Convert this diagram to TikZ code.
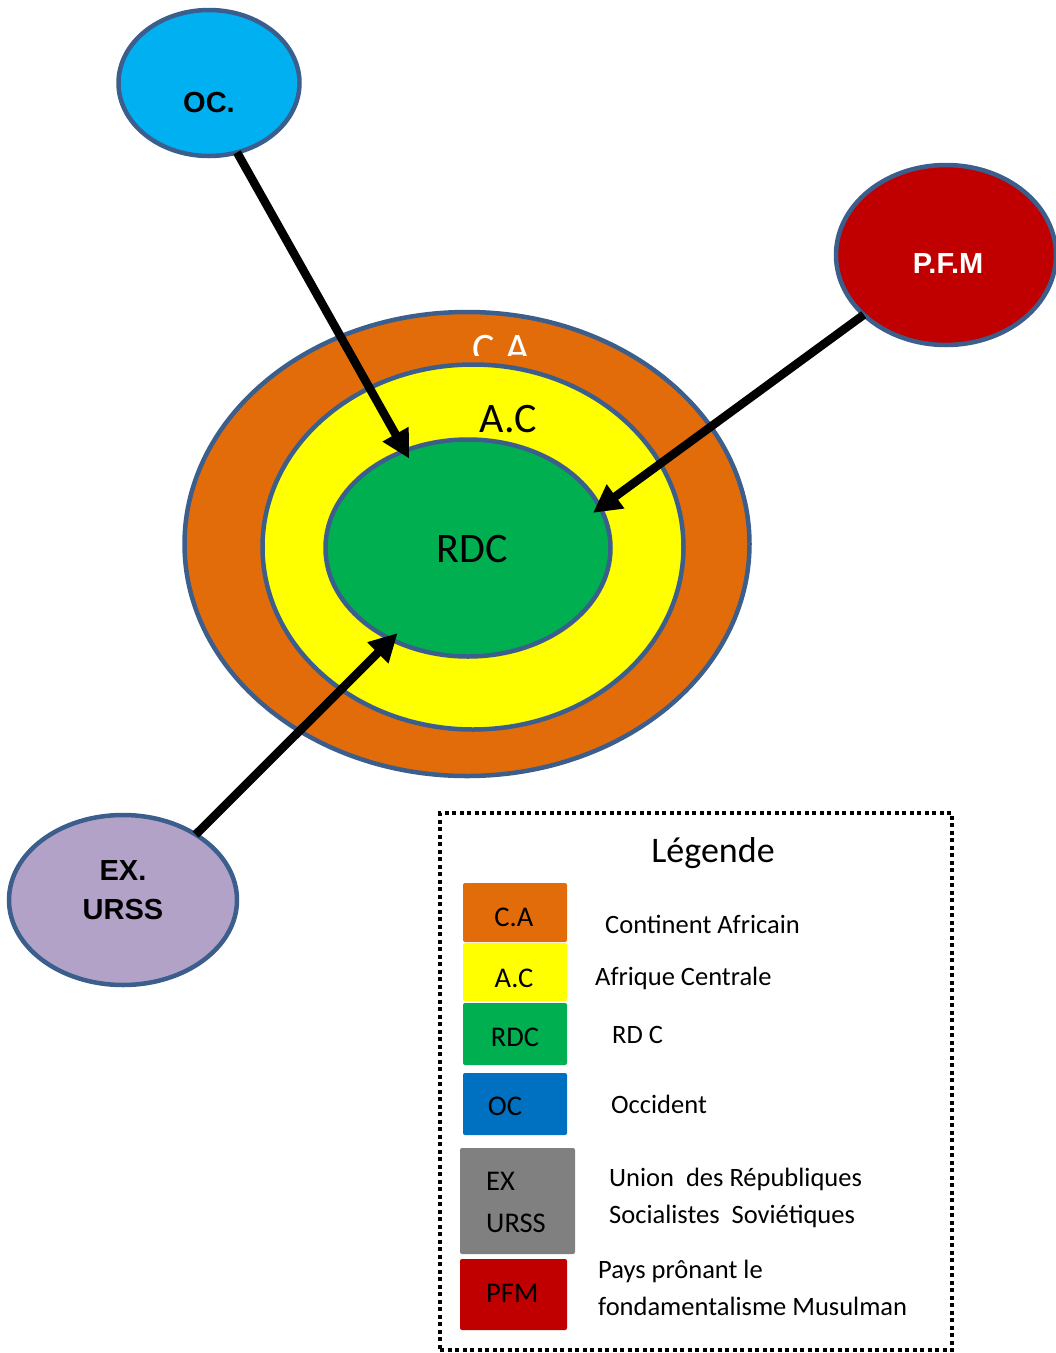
\documentclass[tikz,border=0pt]{standalone}
\usepackage{fontspec}
\setmainfont{Carlito}
\newfontfamily\arialf{Liberation Sans}
\usetikzlibrary{shapes.geometric,arrows.meta}
\definecolor{bordc}{HTML}{3B5E8C}
\definecolor{orangeC}{HTML}{E36C0A}
\definecolor{yellowC}{HTML}{FFFF00}
\definecolor{greenC}{HTML}{00B050}
\definecolor{cyanC}{HTML}{00B0F0}
\definecolor{redC}{HTML}{C00000}
\definecolor{lilacC}{HTML}{B3A2C7}
\definecolor{blueC}{HTML}{0070C0}
\definecolor{grayC}{HTML}{808080}
\begin{document}
\begin{tikzpicture}[x=1pt,y=-1pt,
  ring/.style={ellipse, draw=bordc, line width=4.5pt, inner sep=0pt, outer sep=0pt},
  bigtxt/.style={anchor=base, inner sep=0pt, font=\fontsize{42}{50}\selectfont},
  boldtxt/.style={anchor=base, inner sep=0pt, font=\arialf\bfseries\fontsize{29}{34}\selectfont},
  arr/.style={line width=8.5pt, -{Triangle[length=28pt,width=28pt]}, shorten >=-9pt},
  legbox/.style={rectangle, rounded corners=2pt, inner sep=0pt, outer sep=0pt},
  boxtxt/.style={anchor=base, inner sep=0pt, font=\fontsize{28.5}{32}\selectfont},
  desctxt/.style={anchor=base west, inner sep=0pt, font=\fontsize{26.5}{32}\selectfont}
]
\useasboundingbox (0,0) rectangle (1056,1353);

% concentric ellipses
\node[ring, fill=orangeC, minimum width=565pt, minimum height=464pt] (ca) at (467,544) {};
\begin{scope}
  \clip (420,320) rectangle (600,355);
  \node[bigtxt, text=white] (catext) at (501,362) {C.A};
\end{scope}
\node[ring, fill=yellowC, minimum width=421pt, minimum height=365pt] (ac) at (473,547) {};
\node[bigtxt] (actext) at (508,432) {A.C};
\node[ring, fill=greenC, minimum width=285pt, minimum height=217pt] (rdc) at (468,548) {};
\node[bigtxt] (rdctext) at (472,562) {RDC};

% outer actors
\node[ring, fill=cyanC, minimum width=181pt, minimum height=146pt] (oc) at (209,83) {};
\node[boldtxt] (octext) at (209,112) {OC.};
\node[ring, fill=redC, minimum width=220pt, minimum height=180pt] (pfm) at (946,255) {};
\node[boldtxt, text=white] (pfmtext) at (948,273) {P.F.M};
\node[ring, fill=lilacC, minimum width=228pt, minimum height=170pt] (urss) at (123,900) {};
\node[boldtxt] (ursstext1) at (123,880) {EX.};
\node[boldtxt] (ursstext2) at (123,919) {URSS};

% arrows
\draw[arr] (oc.-68) -- (rdc.123);
\draw[arr] (pfm.-144) -- (rdc.17);
\draw[arr] (urss.42) -- (rdc.-130);

% legend
\node[draw=black, line width=4pt, dash pattern=on 4pt off 3.5pt, minimum width=512pt, minimum height=537pt, inner sep=0pt] (legend) at (696,1081.5) {};
\node[anchor=base, inner sep=0pt, font=\fontsize{36}{42}\selectfont] (legtitle) at (713,862) {Légende};

\node[legbox, fill=orangeC, minimum width=104pt, minimum height=59pt] (bca) at (515,912.5) {};
\node[boxtxt] (bcat) at (514,926) {C.A};
\node[legbox, fill=yellowC, minimum width=104pt, minimum height=58pt] (bac) at (515,972) {};
\node[boxtxt] (bact) at (514,987) {A.C};
\node[legbox, fill=greenC, minimum width=104pt, minimum height=62pt] (brdc) at (515,1034) {};
\node[boxtxt] (brdct) at (515,1046) {RDC};
\node[legbox, fill=blueC, minimum width=104pt, minimum height=62pt] (boc) at (515,1104) {};
\node[boxtxt] (boct) at (505,1115) {OC};
\node[legbox, fill=grayC, minimum width=115pt, minimum height=106pt] (bur) at (517.5,1201) {};
\node[boxtxt, anchor=base west] (burt1) at (486,1190) {EX};
\node[boxtxt, anchor=base west] (burt2) at (486,1232) {URSS};
\node[legbox, fill=redC, minimum width=107pt, minimum height=71pt] (bpfm) at (513.5,1294.5) {};
\node[boxtxt, anchor=base west] (bpfmt) at (486,1302) {PFM};

\node[desctxt] (d1) at (605,933) {Continent Africain};
\node[desctxt] (d2) at (595,985) {Afrique Centrale};
\node[desctxt] (d3) at (612,1043) {RD C};
\node[desctxt] (d4) at (611,1113) {Occident};
\node[desctxt] (d5) at (609,1186) {Union\ \ des Républiques};
\node[desctxt] (d6) at (609,1223) {Socialistes\ \ Soviétiques};
\node[desctxt] (d7) at (598,1278) {Pays prônant le};
\node[desctxt] (d8) at (598,1315) {fondamentalisme Musulman};
\end{tikzpicture}
\end{document}
